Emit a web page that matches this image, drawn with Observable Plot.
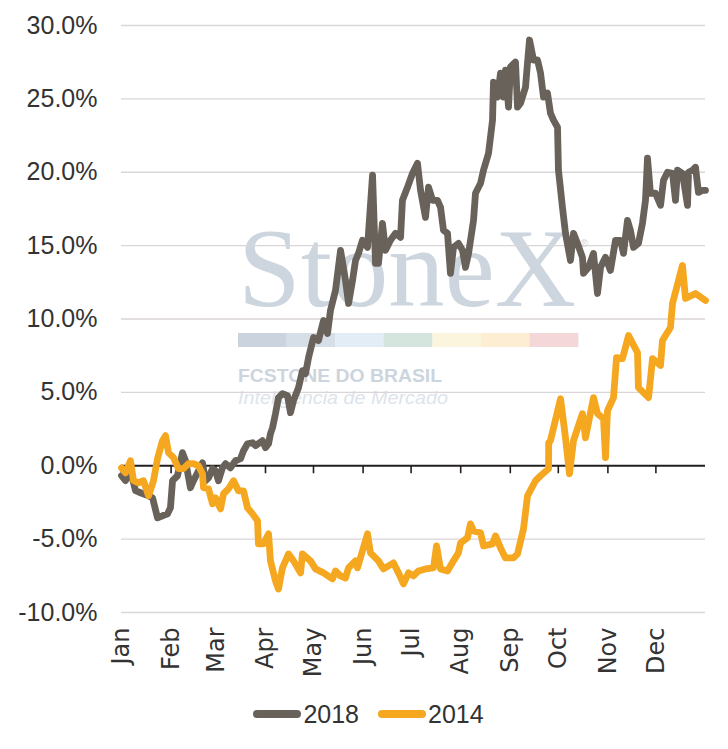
<!DOCTYPE html>
<html><head><meta charset="utf-8">
<script src="https://cdn.jsdelivr.net/npm/d3@7"></script>
<script src="https://cdn.jsdelivr.net/npm/@observablehq/plot@0.6"></script>
<style>
body{margin:0;background:#fff;font-family:"Liberation Sans",sans-serif;}
#wrap{position:relative;width:728px;height:695px;}
#wm{position:absolute;left:0;top:0;z-index:0;}
#chart{position:absolute;left:0;top:0;z-index:1;}
#legend{width:728px;height:38px;display:flex;justify-content:center;align-items:center;padding-left:8px;box-sizing:border-box;font-family:"Liberation Sans",sans-serif;font-size:25px;color:#333;}
.item{display:flex;align-items:center;margin:0 9px;}
.item svg{margin-right:1px;}
</style>
</head><body>
<div id="wrap">
<svg id="wm" width="728" height="695">
  <text x="238" y="306" font-family="Liberation Serif" font-size="112" fill="#cdd6df" textLength="338" lengthAdjust="spacingAndGlyphs">StoneX</text>
  <text x="580" y="247" font-family="Liberation Sans" font-size="11" fill="#cdd6df">®</text>
  <g id="bar"></g>
  <text x="238" y="382" font-family="Liberation Sans" font-weight="700" font-size="19" fill="#ccd5de" textLength="204" lengthAdjust="spacingAndGlyphs">FCSTONE DO BRASIL</text>
  <text x="238" y="404" font-family="Liberation Sans" font-style="italic" font-size="18" fill="#dde3ea" textLength="210" lengthAdjust="spacingAndGlyphs">Inteligência de Mercado</text>
</svg>
<div id="chart"></div>
</div>
<div id="legend"></div>
<script>
// ---- data ----
const months = ["Jan","Feb","Mar","Apr","May","Jun","Jul","Aug","Sep","Oct","Nov","Dec"];
const monthStarts = [0,31,59,90,120,151,181,212,243,273,304,334];
const yTicks = [-10,-5,0,5,10,15,20,25,30];
const seriesNames = ["2018","2014"];
const seriesColors = ["#68625a","#f5a71f"];

const day2018 = [0,2.5,5.6,8.75,11.9,16.9,19.4,22.5,25.6,28.75,30.6,31.9,35,38.1,40,43.1,45,47.5,50.6,52.5,54.4,56.9,58.75,60.6,63.1,65,68.1,71.25,74.4,76.25,78.75,81.9,83.75,88.1,90,91.9,93.1,94.4,96.25,98.1,100.6,103.75,105.6,107.5,110.6,113.1,115,116.9,120,123.1,126.25,128.75,130.6,133.75,136.9,140,141.9,144.4,146.25,148.1,150.6,153.75,156.9,158.75,160.6,163.1,165,168.1,171.25,174.4,175.6,178.75,181.9,185,186.9,190,191.9,194.4,197.5,199.4,201.25,203.75,205.6,207.5,210.6,213.1,215,216.9,220,221.25,224.4,226.25,229.4,231.9,232.5,235,236.9,238.75,240,241.9,243.1,246.25,247.5,249.4,252.5,253.75,255,257.5,260,261.9,263.75,266.25,268.1,270,272.5,273.1,275.6,277.5,280.6,282.5,285,288.1,288.75,291.9,295,297.5,299.4,302.5,305.6,308.75,311.9,313.75,316.25,318.1,320,323.1,325.6,327.5,328.75,330.6,333.75,336.9,338.75,341.25,344.4,346.25,347.5,350.6,353.75,354.4,356.9,358.75,360.6,363.1,365];
const val2018 = [-0.68,-1.02,-0.34,-1.7,-1.84,-2.05,-2.18,-3.55,-3.41,-3.28,-2.87,-1.02,-0.68,0.89,0.34,-1.5,-1.02,-0.48,0.2,-1.02,-0.82,-0.2,-0.34,-1.02,-0.14,0.14,-0.14,0.34,0.48,1.02,1.5,1.57,1.37,1.71,1.23,1.5,2.18,2.59,3.55,4.64,4.91,4.78,3.62,4.44,5.32,6.48,6.28,7.37,8.74,8.53,9.9,9.01,10.58,11.95,14.68,12.63,11.06,12.63,13.99,14.47,15.36,14.88,19.8,13.79,13.79,16.52,14.68,15.36,15.84,15.56,18.09,18.98,19.93,20.61,18.77,16.93,18.98,18.09,18.09,17.61,16.04,15.84,13.11,14.88,15.15,14.68,13.52,14.47,16.72,18.57,19.25,20.14,21.3,23.55,26.14,25.12,26.76,25.12,26.96,24.44,27.17,27.51,24.44,24.71,25.8,27.44,29.01,27.65,27.65,26.76,25.12,25.39,24.03,23.55,23.07,20.14,17.61,15.84,13.99,15.84,15.15,14.2,13.11,13.52,14.47,11.74,13.52,14.2,13.31,15.36,15.36,14.47,16.72,16.04,14.88,15.15,16.52,18.09,20.96,18.57,18.57,17.75,19.45,20.0,19.93,18.09,20.14,19.93,17.75,20.0,20.14,20.34,18.63,18.77,18.77];

const day2014 = [0,2.5,5.6,7.5,10.6,13.75,16.9,20,22.5,25.6,27.5,29.4,32.5,35.6,38.75,41.9,45,48.1,50.6,51.25,54.4,56.9,58.75,61.9,63.75,66.9,70,73.1,76.25,78.75,81.9,85,85.6,88.75,91.9,93.1,96.25,98.1,100.6,104.4,107.5,111.9,113.1,118.1,121.25,126.25,131.9,133.75,136.9,140,141.9,146.25,147.5,150.6,153.75,155.6,160.6,163.75,170,173.1,176.25,179.4,182.5,185.6,190,195,196.9,199.4,203.75,207.5,210.6,211.9,216.25,218.1,220,224.4,226.25,231.9,233.75,236.9,240,245,247.5,251.25,253.75,258.75,261.9,266.9,267,268.1,274.4,277.5,280,282.5,288.1,290,295,297.5,301.25,302.5,303.75,307.5,309.4,313.1,316.9,322.5,323.1,329.4,331.9,336.9,338.1,343.1,344.4,350.6,352.5,358.75,365];
const val2014 = [-0.14,-0.48,0.34,-1.02,-1.16,-1.02,-2.05,-1.02,0.48,1.71,2.05,0.89,0.55,-0.2,-0.2,0.14,0.14,0,-0.55,-1.5,-1.57,-2.59,-2.18,-2.94,-1.91,-1.57,-1.02,-1.71,-1.71,-2.87,-3.28,-3.75,-5.32,-5.32,-4.64,-6.48,-7.85,-8.4,-6.96,-6.01,-6.48,-7.3,-6.01,-6.48,-7.03,-7.3,-7.71,-7.17,-7.51,-7.65,-6.96,-6.48,-6.96,-5.8,-4.64,-5.94,-6.48,-7.03,-6.62,-7.3,-8.05,-7.3,-7.51,-7.17,-7.03,-6.96,-5.46,-7.03,-7.17,-6.48,-5.94,-5.26,-4.91,-3.96,-4.44,-4.57,-5.46,-5.32,-4.78,-5.6,-6.28,-6.28,-6.01,-4.3,-2.05,-1.02,-0.68,-0.2,1.57,1.71,4.57,1.91,-0.55,1.71,3.55,1.91,4.64,3.55,3.21,0.55,3.75,4.64,7.37,7.3,8.87,7.71,5.32,4.64,7.3,6.83,8.53,9.42,11.06,13.65,11.4,11.74,11.26];

const data2018 = day2018.map((d,i)=>({day:d, value:val2018[i]}));
const data2014 = day2014.map((d,i)=>({day:d, value:val2014[i]}));

// watermark colour bar
const barColors = ["#cbd4de","#d6dee8","#e2edf5","#d3e5dc","#faf5dc","#fdeed3","#f3d7d9"];
const bar = document.getElementById("bar");
barColors.forEach((c,i)=>{
  const r = document.createElementNS("http://www.w3.org/2000/svg","rect");
  r.setAttribute("x", 238 + i*48.6); r.setAttribute("y", 333);
  r.setAttribute("width", 48.8); r.setAttribute("height", 14);
  r.setAttribute("fill", c); bar.appendChild(r);
});

const chart = Plot.plot({
  width: 728, height: 695,
  marginLeft: 121, marginRight: 23, marginTop: 25, marginBottom: 83,
  style: {background: "transparent", fontFamily: "'Liberation Sans', sans-serif", color: "#333"},
  x: {domain: [0, 365]},
  y: {domain: [-10, 30]},
  marks: [
    Plot.ruleY(yTicks.filter(d => d !== 0), {stroke: "#dad5d6", strokeWidth: 1.4}),
    Plot.ruleY([0], {stroke: "#231f20", strokeWidth: 2}),
    Plot.ruleX(monthStarts, {x: d => d, y1: 0, y2: 0, insetBottom: -8, stroke: "#231f20", strokeWidth: 1.6}),
    Plot.axisY({ticks: yTicks, tickSize: 0, tickPadding: 24, tickFormat: d => d.toFixed(1) + "%", fontSize: 25, label: null}),
    Plot.axisX({ticks: monthStarts, tickSize: 0, tickPadding: 15, tickRotate: -90, tickFormat: d => months[monthStarts.indexOf(d)], fontSize: 24, fontFamily: "'DejaVu Sans', sans-serif", label: null}),
    Plot.line(data2018, {x: "day", y: "value", stroke: seriesColors[0], strokeWidth: 6.8, strokeLinejoin: "round", strokeLinecap: "round"}),
    Plot.line(data2014, {x: "day", y: "value", stroke: seriesColors[1], strokeWidth: 6.8, strokeLinejoin: "round", strokeLinecap: "round"})
  ]
});
document.getElementById("chart").appendChild(chart);

// legend
const legend = document.getElementById("legend");
seriesNames.forEach((n,i)=>{
  const it = document.createElement("div"); it.className = "item";
  it.innerHTML = `<svg width="50" height="12"><line x1="5" y1="6" x2="45" y2="6" stroke="${seriesColors[i]}" stroke-width="8" stroke-linecap="round"/></svg><span>${n}</span>`;
  legend.appendChild(it);
});
</script>
</body></html>
